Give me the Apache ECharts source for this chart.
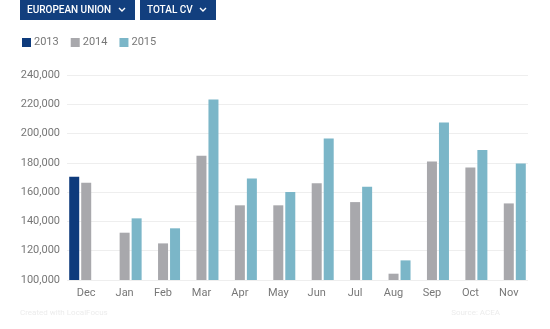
<!DOCTYPE html>
<html>
<head>
<meta charset="utf-8">
<script src="https://cdn.jsdelivr.net/npm/echarts@6/dist/echarts.min.js"></script>
<style>
  html, body { margin: 0; padding: 0; background: #fff; }
  #chart { width: 550px; height: 329px; }
</style>
</head>
<body>
<div id="chart"></div>
<script>
// Monthly commercial vehicle registrations, European Union
const months = ['Dec', 'Jan', 'Feb', 'Mar', 'Apr', 'May', 'Jun', 'Jul', 'Aug', 'Sep', 'Oct', 'Nov'];
const years = ['2013', '2014', '2015'];
const values2013 = [170500, null, null, null, null, null, null, null, null, null, null, null];
const values2014 = [166400, 132300, 125000, 184800, 151000, 151000, 166000, 153200, 104300, 181000, 176900, 152300];
const values2015 = [null, 142100, 135300, 223300, 169400, 160100, 196700, 163700, 113400, 207600, 188700, 179600];
const yTicks = [100000, 120000, 140000, 160000, 180000, 200000, 220000, 240000];

const colors = ['#0e3b7c', '#a8a8ac', '#7bb6c8'];
const seriesValues = [values2013, values2014, values2015];

const chart = echarts.init(document.getElementById('chart'));

function dropdown(x, w, label) {
  return {
    type: 'group',
    left: x, top: 0,
    children: [
      { type: 'rect', shape: { x: 0, y: 0, width: w, height: 20 }, style: { fill: '#123f7e' } },
      { type: 'text', x: 7, y: 10, style: { text: label, fill: '#fff', font: '500 10px Roboto', textVerticalAlign: 'middle' } },
      { type: 'polyline', shape: { points: [[w - 16, 8], [w - 13, 11], [w - 10, 8]] }, style: { stroke: '#fff', lineWidth: 1.4, fill: null } }
    ]
  };
}

chart.setOption({
  animation: false,
  color: colors,
  textStyle: { fontFamily: 'Roboto' },
  graphic: [
    dropdown(20, 115, 'EUROPEAN UNION'),
    dropdown(140, 76, 'TOTAL CV'),
    { type: 'text', left: 20, top: 309, style: { text: 'Created with LocalFocus', fill: '#ececec', font: '8px Roboto' } },
    { type: 'text', right: 50, top: 309, style: { text: 'Source: ACEA', fill: '#ececec', font: '8px Roboto' } }
  ],
  legend: {
    left: 17, top: 32,
    icon: 'rect', itemWidth: 9, itemHeight: 9, itemGap: 12,
    textStyle: { color: '#777', fontSize: 11, padding: [0, 0, 0, -2] },
    data: years
  },
  grid: { left: 67, right: 22, top: 75, bottom: 49 },
  xAxis: {
    type: 'category',
    data: months,
    axisLine: { show: false },
    axisTick: { show: false },
    axisLabel: { color: '#777', fontSize: 11, margin: 8 }
  },
  yAxis: {
    type: 'value',
    min: yTicks[0], max: yTicks[yTicks.length - 1], interval: 20000,
    axisLine: { show: false },
    axisTick: { show: false },
    axisLabel: {
      color: '#777', fontSize: 11, margin: 7,
      formatter: v => v.toLocaleString('en-US')
    },
    splitLine: { lineStyle: { color: '#eeeeee', width: 1 } }
  },
  series: years.map((y, i) => ({
    name: y,
    type: 'bar',
    data: seriesValues[i],
    barWidth: 10,
    barGap: '20%',
    itemStyle: { color: colors[i] }
  }))
});
</script>
</body>
</html>
